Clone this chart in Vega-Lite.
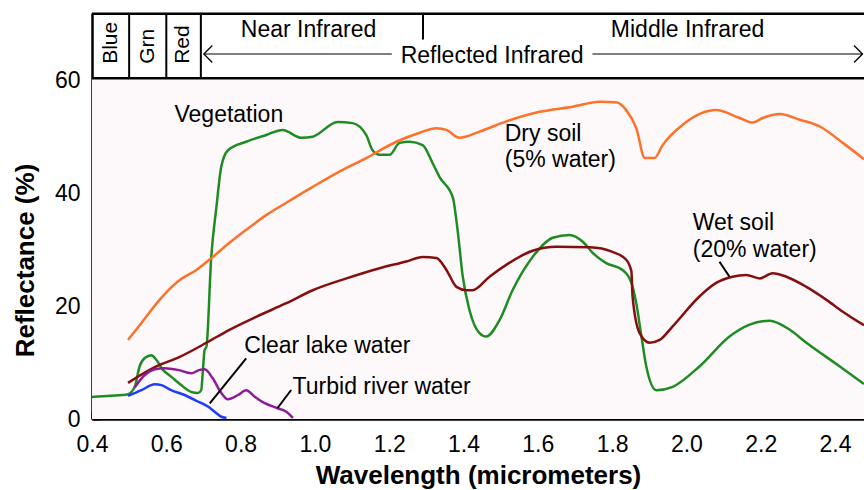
{
  "$schema": "https://vega.github.io/schema/vega-lite/v6.json",
  "width": 772,
  "height": 406,
  "autosize": {"type": "none"},
  "padding": {"left": 92, "top": 13, "right": 0, "bottom": 71},
  "background": "white",
  "config": {
    "view": {"stroke": null},
    "font": "Liberation Sans",
    "axis": {
      "grid": false,
      "zindex": 1,
      "domainColor": "black",
      "domainWidth": 2.5,
      "tickColor": "black",
      "tickWidth": 2,
      "tickSize": -8,
      "labelFont": "Liberation Sans",
      "labelFontSize": 23,
      "labelColor": "black",
      "labelFlush": false,
      "titleFont": "Liberation Sans",
      "titleFontWeight": "bold",
      "titleFontSize": 26,
      "titleColor": "black"
    }
  },
  "datasets": {
    "plotbg": [{"x": 0.4, "x2": 2.478, "y": 0, "y2": 60.35}],
    "curves": [
      {"s": "Vegetation", "x": 0.40, "y": 3.9}, {"s": "Vegetation", "x": 0.45, "y": 4.1}, {"s": "Vegetation", "x": 0.497, "y": 4.4}, {"s": "Vegetation", "x": 0.515, "y": 5.7}, {"s": "Vegetation", "x": 0.528, "y": 9.3}, {"s": "Vegetation", "x": 0.542, "y": 10.8}, {"s": "Vegetation", "x": 0.560, "y": 11.3}, {"s": "Vegetation", "x": 0.573, "y": 10.5}, {"s": "Vegetation", "x": 0.591, "y": 8.7}, {"s": "Vegetation", "x": 0.613, "y": 7.5}, {"s": "Vegetation", "x": 0.640, "y": 6.0}, {"s": "Vegetation", "x": 0.667, "y": 4.8}, {"s": "Vegetation", "x": 0.685, "y": 4.6}, {"s": "Vegetation", "x": 0.694, "y": 5.1}, {"s": "Vegetation", "x": 0.698, "y": 8.1}, {"s": "Vegetation", "x": 0.703, "y": 12.2}, {"s": "Vegetation", "x": 0.708, "y": 12.8}, {"s": "Vegetation", "x": 0.721, "y": 28.7}, {"s": "Vegetation", "x": 0.735, "y": 37.6}, {"s": "Vegetation", "x": 0.748, "y": 44.7}, {"s": "Vegetation", "x": 0.766, "y": 47.6}, {"s": "Vegetation", "x": 0.815, "y": 49.1}, {"s": "Vegetation", "x": 0.869, "y": 50.3}, {"s": "Vegetation", "x": 0.913, "y": 51.2}, {"s": "Vegetation", "x": 0.963, "y": 49.8}, {"s": "Vegetation", "x": 0.994, "y": 50.0}, {"s": "Vegetation", "x": 1.061, "y": 52.6}, {"s": "Vegetation", "x": 1.101, "y": 52.4}, {"s": "Vegetation", "x": 1.138, "y": 50.3}, {"s": "Vegetation", "x": 1.155, "y": 47.6}, {"s": "Vegetation", "x": 1.174, "y": 46.8}, {"s": "Vegetation", "x": 1.201, "y": 46.8}, {"s": "Vegetation", "x": 1.228, "y": 48.9}, {"s": "Vegetation", "x": 1.255, "y": 49.1}, {"s": "Vegetation", "x": 1.290, "y": 48.5}, {"s": "Vegetation", "x": 1.317, "y": 45.3}, {"s": "Vegetation", "x": 1.336, "y": 42.8}, {"s": "Vegetation", "x": 1.371, "y": 39.3}, {"s": "Vegetation", "x": 1.384, "y": 33.5}, {"s": "Vegetation", "x": 1.398, "y": 25.2}, {"s": "Vegetation", "x": 1.416, "y": 19.3}, {"s": "Vegetation", "x": 1.443, "y": 15.2}, {"s": "Vegetation", "x": 1.461, "y": 14.6}, {"s": "Vegetation", "x": 1.497, "y": 17.5}, {"s": "Vegetation", "x": 1.532, "y": 22.8}, {"s": "Vegetation", "x": 1.586, "y": 28.7}, {"s": "Vegetation", "x": 1.640, "y": 32.1}, {"s": "Vegetation", "x": 1.685, "y": 32.6}, {"s": "Vegetation", "x": 1.721, "y": 31.4}, {"s": "Vegetation", "x": 1.748, "y": 29.4}, {"s": "Vegetation", "x": 1.784, "y": 27.6}, {"s": "Vegetation", "x": 1.828, "y": 26.4}, {"s": "Vegetation", "x": 1.852, "y": 24.1}, {"s": "Vegetation", "x": 1.865, "y": 20.5}, {"s": "Vegetation", "x": 1.879, "y": 14.6}, {"s": "Vegetation", "x": 1.892, "y": 9.3}, {"s": "Vegetation", "x": 1.919, "y": 5.1}, {"s": "Vegetation", "x": 1.963, "y": 5.7}, {"s": "Vegetation", "x": 2.035, "y": 9.3}, {"s": "Vegetation", "x": 2.116, "y": 14.6}, {"s": "Vegetation", "x": 2.170, "y": 16.7}, {"s": "Vegetation", "x": 2.224, "y": 17.4}, {"s": "Vegetation", "x": 2.278, "y": 15.8}, {"s": "Vegetation", "x": 2.323, "y": 13.5}, {"s": "Vegetation", "x": 2.413, "y": 9.3}, {"s": "Vegetation", "x": 2.478, "y": 6.2},
      {"s": "Dry soil", "x": 0.497, "y": 14.0}, {"s": "Dry soil", "x": 0.533, "y": 17.0}, {"s": "Dry soil", "x": 0.590, "y": 21.7}, {"s": "Dry soil", "x": 0.636, "y": 24.6}, {"s": "Dry soil", "x": 0.681, "y": 26.4}, {"s": "Dry soil", "x": 0.725, "y": 28.7}, {"s": "Dry soil", "x": 0.770, "y": 31.2}, {"s": "Dry soil", "x": 0.815, "y": 33.5}, {"s": "Dry soil", "x": 0.869, "y": 36.1}, {"s": "Dry soil", "x": 0.923, "y": 38.3}, {"s": "Dry soil", "x": 0.994, "y": 41.1}, {"s": "Dry soil", "x": 1.066, "y": 43.8}, {"s": "Dry soil", "x": 1.138, "y": 46.2}, {"s": "Dry soil", "x": 1.219, "y": 49.1}, {"s": "Dry soil", "x": 1.282, "y": 50.7}, {"s": "Dry soil", "x": 1.327, "y": 51.5}, {"s": "Dry soil", "x": 1.354, "y": 51.2}, {"s": "Dry soil", "x": 1.389, "y": 49.8}, {"s": "Dry soil", "x": 1.443, "y": 50.9}, {"s": "Dry soil", "x": 1.515, "y": 52.7}, {"s": "Dry soil", "x": 1.605, "y": 54.4}, {"s": "Dry soil", "x": 1.694, "y": 55.3}, {"s": "Dry soil", "x": 1.767, "y": 56.2}, {"s": "Dry soil", "x": 1.811, "y": 56.1}, {"s": "Dry soil", "x": 1.838, "y": 54.7}, {"s": "Dry soil", "x": 1.865, "y": 51.5}, {"s": "Dry soil", "x": 1.888, "y": 46.2}, {"s": "Dry soil", "x": 1.914, "y": 46.2}, {"s": "Dry soil", "x": 1.936, "y": 48.5}, {"s": "Dry soil", "x": 1.990, "y": 52.1}, {"s": "Dry soil", "x": 2.080, "y": 54.7}, {"s": "Dry soil", "x": 2.143, "y": 53.3}, {"s": "Dry soil", "x": 2.178, "y": 52.5}, {"s": "Dry soil", "x": 2.205, "y": 53.3}, {"s": "Dry soil", "x": 2.251, "y": 54.0}, {"s": "Dry soil", "x": 2.305, "y": 53.0}, {"s": "Dry soil", "x": 2.359, "y": 51.8}, {"s": "Dry soil", "x": 2.421, "y": 48.9}, {"s": "Dry soil", "x": 2.478, "y": 46.0},
      {"s": "Wet soil", "x": 0.497, "y": 6.4}, {"s": "Wet soil", "x": 0.573, "y": 9.3}, {"s": "Wet soil", "x": 0.636, "y": 11.0}, {"s": "Wet soil", "x": 0.708, "y": 13.5}, {"s": "Wet soil", "x": 0.770, "y": 15.8}, {"s": "Wet soil", "x": 0.842, "y": 18.1}, {"s": "Wet soil", "x": 0.923, "y": 20.5}, {"s": "Wet soil", "x": 0.994, "y": 22.8}, {"s": "Wet soil", "x": 1.085, "y": 24.9}, {"s": "Wet soil", "x": 1.174, "y": 26.7}, {"s": "Wet soil", "x": 1.246, "y": 27.9}, {"s": "Wet soil", "x": 1.290, "y": 28.7}, {"s": "Wet soil", "x": 1.327, "y": 28.5}, {"s": "Wet soil", "x": 1.354, "y": 26.4}, {"s": "Wet soil", "x": 1.381, "y": 23.4}, {"s": "Wet soil", "x": 1.408, "y": 22.8}, {"s": "Wet soil", "x": 1.424, "y": 22.8}, {"s": "Wet soil", "x": 1.470, "y": 25.2}, {"s": "Wet soil", "x": 1.515, "y": 27.3}, {"s": "Wet soil", "x": 1.586, "y": 29.8}, {"s": "Wet soil", "x": 1.650, "y": 30.5}, {"s": "Wet soil", "x": 1.740, "y": 30.4}, {"s": "Wet soil", "x": 1.801, "y": 29.6}, {"s": "Wet soil", "x": 1.838, "y": 28.2}, {"s": "Wet soil", "x": 1.852, "y": 26.1}, {"s": "Wet soil", "x": 1.855, "y": 21.7}, {"s": "Wet soil", "x": 1.874, "y": 15.2}, {"s": "Wet soil", "x": 1.901, "y": 13.5}, {"s": "Wet soil", "x": 1.928, "y": 14.0}, {"s": "Wet soil", "x": 1.963, "y": 16.4}, {"s": "Wet soil", "x": 2.035, "y": 21.7}, {"s": "Wet soil", "x": 2.080, "y": 24.1}, {"s": "Wet soil", "x": 2.124, "y": 25.2}, {"s": "Wet soil", "x": 2.161, "y": 25.5}, {"s": "Wet soil", "x": 2.197, "y": 24.9}, {"s": "Wet soil", "x": 2.232, "y": 25.8}, {"s": "Wet soil", "x": 2.269, "y": 25.2}, {"s": "Wet soil", "x": 2.323, "y": 23.4}, {"s": "Wet soil", "x": 2.377, "y": 21.1}, {"s": "Wet soil", "x": 2.421, "y": 19.0}, {"s": "Wet soil", "x": 2.478, "y": 16.6},
      {"s": "Clear lake water", "x": 0.497, "y": 4.1}, {"s": "Clear lake water", "x": 0.533, "y": 5.1}, {"s": "Clear lake water", "x": 0.569, "y": 6.15}, {"s": "Clear lake water", "x": 0.587, "y": 6.0}, {"s": "Clear lake water", "x": 0.613, "y": 5.1}, {"s": "Clear lake water", "x": 0.649, "y": 4.25}, {"s": "Clear lake water", "x": 0.685, "y": 3.1}, {"s": "Clear lake water", "x": 0.712, "y": 2.2}, {"s": "Clear lake water", "x": 0.730, "y": 1.3}, {"s": "Clear lake water", "x": 0.748, "y": 0.4}, {"s": "Clear lake water", "x": 0.762, "y": 0.2},
      {"s": "Turbid river water", "x": 0.515, "y": 5.6}, {"s": "Turbid river water", "x": 0.542, "y": 7.8}, {"s": "Turbid river water", "x": 0.569, "y": 8.8}, {"s": "Turbid river water", "x": 0.595, "y": 9.0}, {"s": "Turbid river water", "x": 0.631, "y": 8.7}, {"s": "Turbid river water", "x": 0.667, "y": 8.1}, {"s": "Turbid river water", "x": 0.690, "y": 8.7}, {"s": "Turbid river water", "x": 0.703, "y": 8.8}, {"s": "Turbid river water", "x": 0.725, "y": 7.2}, {"s": "Turbid river water", "x": 0.748, "y": 4.6}, {"s": "Turbid river water", "x": 0.766, "y": 3.5}, {"s": "Turbid river water", "x": 0.793, "y": 4.25}, {"s": "Turbid river water", "x": 0.815, "y": 5.1}, {"s": "Turbid river water", "x": 0.838, "y": 3.95}, {"s": "Turbid river water", "x": 0.865, "y": 2.8}, {"s": "Turbid river water", "x": 0.900, "y": 1.9}, {"s": "Turbid river water", "x": 0.923, "y": 1.3}, {"s": "Turbid river water", "x": 0.941, "y": 0.2}
    ],
    "frameH": [
      {"x": 0.4, "x2": 2.478, "y": 71.75, "y2": 71.75},
      {"x": 0.4, "x2": 2.478, "y": 60.35, "y2": 60.35}
    ],
    "frameV": [
      {"x": 0.5, "x2": 0.5, "y": 60.35, "y2": 71.75},
      {"x": 0.6, "x2": 0.6, "y": 60.35, "y2": 71.75},
      {"x": 0.693, "x2": 0.693, "y": 60.35, "y2": 71.75},
      {"x": 1.291, "x2": 1.291, "y": 67.2, "y2": 71.75}
    ],
    "arrowline": [
      {"x": 0.701, "x2": 1.207, "y": 64.64, "y2": 64.64},
      {"x": 1.747, "x2": 2.474, "y": 64.64, "y2": 64.64}
    ],
    "arrowL": [{"x": 0.701, "y": 64.64}],
    "arrowR": [{"x": 2.474, "y": 64.64}],
    "leaders": [
      {"x": 0.815, "y": 10.75, "x2": 0.717, "y2": 2.78},
      {"x": 0.936, "y": 5.14, "x2": 0.899, "y2": 1.9},
      {"x": 2.089, "y": 27.86, "x2": 2.116, "y2": 25.2}
    ],
    "notes": [
      {"x": 0.622, "y": 52.6, "t": "Vegetation"},
      {"x": 1.511, "y": 49.3, "t": "Dry soil"},
      {"x": 1.511, "y": 44.6, "t": "(5% water)"},
      {"x": 2.017, "y": 33.5, "t": "Wet soil"},
      {"x": 2.017, "y": 28.7, "t": "(20% water)"},
      {"x": 0.810, "y": 11.75, "t": "Clear lake water"},
      {"x": 0.940, "y": 4.43, "t": "Turbid river water"}
    ],
    "bands": [
      {"x": 0.983, "y": 67.7, "t": "Near Infrared"},
      {"x": 2.003, "y": 67.7, "t": "Middle Infrared"},
      {"x": 1.477, "y": 63.0, "t": "Reflected Infrared"}
    ],
    "colors": [
      {"x": 0.45, "y": 62.9, "t": "Blue"},
      {"x": 0.55, "y": 62.9, "t": "Grn"},
      {"x": 0.646, "y": 62.9, "t": "Red"}
    ]
  },
  "layer": [
    {
      "data": {"name": "plotbg"},
      "mark": {"type": "rect", "fill": "#fdf9fb"},
      "encoding": {
        "x": {"field": "x", "type": "quantitative", "scale": {"domain": [0.4, 2.478], "nice": false, "zero": false}, "title": "Wavelength (micrometers)",
          "axis": {"values": [0.4, 0.6, 0.8, 1.0, 1.2, 1.4, 1.6, 1.8, 2.0, 2.2, 2.4], "format": ".1f", "labelPadding": 22, "titleY": 64, "titleBaseline": "alphabetic"}},
        "x2": {"field": "x2"},
        "y": {"field": "y", "type": "quantitative", "scale": {"domain": [0, 71.9], "nice": false, "zero": false}, "title": "Reflectance (%)",
          "axis": {"values": [0, 20, 40, 60], "labelPadding": 20, "titleX": -67, "titleY": 247, "titleBaseline": "middle", "titleAlign": "center", "titleAngle": 270}},
        "y2": {"field": "y2"}
      }
    },
    {
      "data": {"name": "curves"},
      "mark": {"type": "line", "strokeWidth": 2.5, "clip": true, "strokeJoin": "round", "interpolate": "monotone"},
      "encoding": {
        "x": {"field": "x", "type": "quantitative"},
        "y": {"field": "y", "type": "quantitative"},
        "color": {"field": "s", "type": "nominal", "legend": null,
          "scale": {"domain": ["Dry soil", "Wet soil", "Turbid river water", "Clear lake water", "Vegetation"], "range": ["#ff7028", "#850f0f", "#8c1c98", "#1f3cff", "#1f8c23"]}}
      }
    },
    {
      "data": {"name": "frameH"},
      "mark": {"type": "rule", "color": "black", "strokeWidth": 2.5},
      "encoding": {"x": {"field": "x", "type": "quantitative"}, "x2": {"field": "x2"}, "y": {"field": "y", "type": "quantitative"}, "y2": {"field": "y2"}}
    },
    {
      "data": {"name": "frameV"},
      "mark": {"type": "rule", "color": "black", "strokeWidth": 2},
      "encoding": {"x": {"field": "x", "type": "quantitative"}, "x2": {"field": "x2"}, "y": {"field": "y", "type": "quantitative"}, "y2": {"field": "y2"}}
    },
    {
      "data": {"name": "arrowline"},
      "mark": {"type": "rule", "color": "black", "strokeWidth": 1.2},
      "encoding": {"x": {"field": "x", "type": "quantitative"}, "x2": {"field": "x2"}, "y": {"field": "y", "type": "quantitative"}, "y2": {"field": "y2"}}
    },
    {
      "data": {"name": "arrowL"},
      "mark": {"type": "point", "shape": "M 1 -1 L 0 0 L 1 1", "filled": false, "stroke": "black", "strokeWidth": 1.3, "size": 289, "opacity": 1},
      "encoding": {"x": {"field": "x", "type": "quantitative"}, "y": {"field": "y", "type": "quantitative"}}
    },
    {
      "data": {"name": "arrowR"},
      "mark": {"type": "point", "shape": "M -1 -1 L 0 0 L -1 1", "filled": false, "stroke": "black", "strokeWidth": 1.3, "size": 289, "opacity": 1},
      "encoding": {"x": {"field": "x", "type": "quantitative"}, "y": {"field": "y", "type": "quantitative"}}
    },
    {
      "data": {"name": "leaders"},
      "mark": {"type": "rule", "color": "black", "strokeWidth": 2},
      "encoding": {"x": {"field": "x", "type": "quantitative"}, "x2": {"field": "x2"}, "y": {"field": "y", "type": "quantitative"}, "y2": {"field": "y2"}}
    },
    {
      "data": {"name": "notes"},
      "mark": {"type": "text", "align": "left", "baseline": "alphabetic", "fontSize": 23, "font": "Liberation Sans", "color": "black"},
      "encoding": {"x": {"field": "x", "type": "quantitative"}, "y": {"field": "y", "type": "quantitative"}, "text": {"field": "t"}}
    },
    {
      "data": {"name": "bands"},
      "mark": {"type": "text", "align": "center", "baseline": "alphabetic", "fontSize": 23, "font": "Liberation Sans", "color": "black"},
      "encoding": {"x": {"field": "x", "type": "quantitative"}, "y": {"field": "y", "type": "quantitative"}, "text": {"field": "t"}}
    },
    {
      "data": {"name": "colors"},
      "mark": {"type": "text", "align": "left", "baseline": "middle", "angle": 270, "fontSize": 21, "font": "Liberation Sans", "color": "black"},
      "encoding": {"x": {"field": "x", "type": "quantitative"}, "y": {"field": "y", "type": "quantitative"}, "text": {"field": "t"}}
    }
  ]
}
